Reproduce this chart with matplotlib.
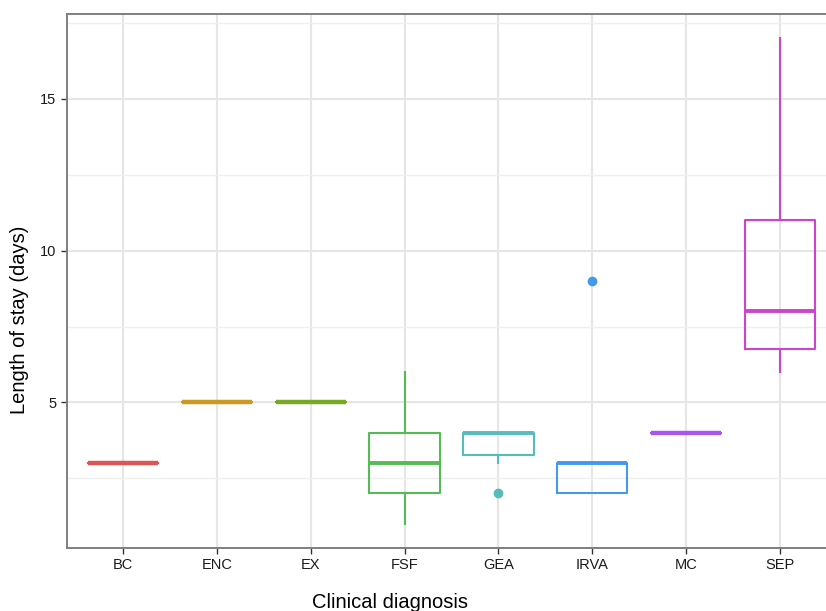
import matplotlib
matplotlib.use("Agg")
import matplotlib.pyplot as plt
import numpy as np

plt.rcParams['font.family'] = ['Liberation Sans', 'DejaVu Sans']

categories = ["BC", "ENC", "EX", "FSF", "GEA", "IRVA", "MC", "SEP"]
q1 =      [3, 5, 5, 2, 3.25, 2, 4, 6.75]
medians = [3, 5, 5, 3, 4,    3, 4, 8]
q3 =      [3, 5, 5, 4, 4,    3, 4, 11]
whislo =  [3, 5, 5, 1, 3,    2, 4, 6]
whishi =  [3, 5, 5, 6, 4,    3, 4, 17]
fliers =  [[], [], [], [], [2], [9], [], []]
colors = ["#DD5555", "#CC9922", "#77AA22", "#55BB55", "#55BBBB", "#4499EE", "#AA55EE", "#CC44CC"]

W, H = 826, 611
fig = plt.figure(figsize=(W/100, H/100), dpi=100)
ax = fig.add_axes([67/W, 1-548/H, (836-67)/W, (548-14)/H])

for i, c in enumerate(categories):
    st = dict(med=medians[i], q1=q1[i], q3=q3[i], whislo=whislo[i], whishi=whishi[i],
              fliers=fliers[i], label=c)
    flat = q1[i] == q3[i] == medians[i]
    ax.bxp([st], positions=[i+1], widths=0.75, showcaps=False, patch_artist=False,
           boxprops=dict(color=colors[i], linewidth=1.5),
           whiskerprops=dict(color=colors[i], linewidth=1.5),
           medianprops=dict(color=colors[i], linewidth=3.2 if flat else 2.8, solid_capstyle='butt'),
           flierprops=dict(marker='o', markersize=6, markerfacecolor=colors[i],
                           markeredgecolor=colors[i]),
           manage_ticks=False, zorder=3)

ax.set_xlim(0.4, 8.6)
ax.set_ylim(0.2, 17.8)
ax.set_xticks(range(1, 9))
ax.set_xticklabels(categories)
ax.set_yticks([5, 10, 15])
ax.set_yticks([2.5, 7.5, 12.5, 17.5], minor=True)
ax.tick_params(axis='both', which='major', labelsize=10.5, colors='#333333', length=4,
               width=1, labelcolor='#1a1a1a')
ax.tick_params(axis='y', which='minor', length=0)
ax.grid(True, which='major', color='#E6E6E6', linewidth=1.5, zorder=0)
ax.grid(True, which='minor', axis='y', color='#EFEFEF', linewidth=1.0, zorder=0)
ax.set_axisbelow(True)
for s in ax.spines.values():
    s.set_color('#7F7F7F')
    s.set_linewidth(1.4)

fig.text(390/W, 1-602/H, "Clinical diagnosis", ha='center', va='center', fontsize=14.5)
fig.text(20/W, 1-320/H, "Length of stay (days)", ha='center', va='center', fontsize=14.5,
         rotation=90)

fig.savefig("out.png", dpi=100)
